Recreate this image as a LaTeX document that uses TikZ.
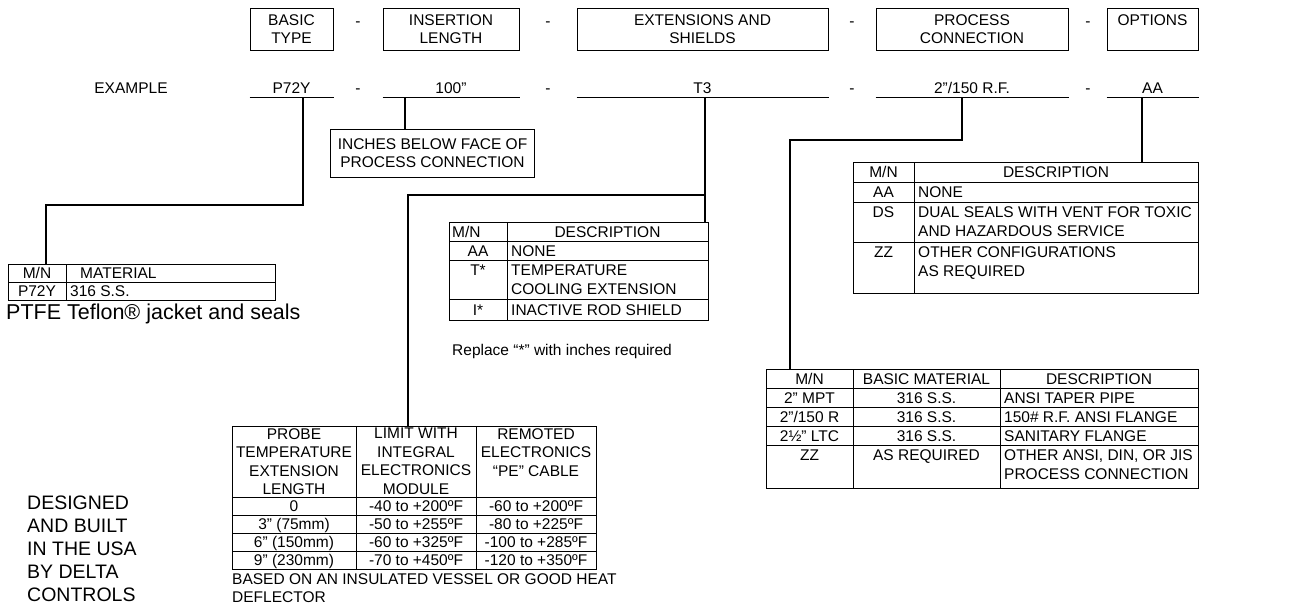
\documentclass[tikz,border=0pt]{standalone}
\usepackage{fontspec}
\setmainfont{Liberation Sans}
\usetikzlibrary{positioning}

\begin{document}
\begin{tikzpicture}[x=1pt,y=-1pt,
  txt/.style={font=\fontsize{15.5}{18.5}\selectfont, inner sep=0pt},
  note/.style={font=\fontsize{21.5}{25}\selectfont, inner sep=0pt},
  big/.style={font=\fontsize{19.5}{23}\selectfont, inner sep=0pt},
  hdbox/.style={draw, line width=1pt, minimum height=42pt, align=center, txt},
  cell/.style={line width=1pt},
  wire/.style={line width=1.6pt}]
\useasboundingbox (0,0) rectangle (1312,614);

% code boxes
\node[hdbox, minimum width=83pt]  (hbasic) at (291.5,29)  {BASIC\\TYPE};
\node[hdbox, minimum width=136pt] (hins)   at (451,29)    {INSERTION\\LENGTH};
\node[hdbox, minimum width=251pt] (hext)   at (702.5,29)  {EXTENSIONS AND\\SHIELDS};
\node[hdbox, minimum width=192pt] (hproc)  at (972,29)    {PROCESS\\CONNECTION};
\node[hdbox, minimum width=91pt]  (hopt)   at (1152.5,29) {OPTIONS\\~};

% example code on the lines
\node[txt, anchor=base] (exlbl) at (131,93) {EXAMPLE};
\foreach \b/\v in {hbasic/P72Y, hins/100”, hext/T3, hproc/{2”/150 R.F.}, hopt/AA}{
  \draw[cell] ([yshift=-47pt]\b.south west) -- ([yshift=-47pt]\b.south east);
  \node[txt, anchor=base] (v-\b) at ([yshift=-43pt]\b.south) {\v};
}
\foreach \x [count=\i] in {358,548,852,1088}{
  \node[txt, anchor=base] (hd\i) at (\x,26) {-};
  \node[txt, anchor=base] (ed\i) at (\x,93) {-};
}

% insertion length note
\node[draw, cell, txt, align=center, minimum width=204pt, minimum height=48pt] (inches) at (432.5,153) {INCHES BELOW FACE OF\\PROCESS CONNECTION};

% material table
\draw[cell] (8,264) rectangle (275,300) (8,282) -- (275,282) (66,264) -- (66,300);
\node[txt, anchor=base] (matmn) at (37,278.5) {M/N};
\node[txt, anchor=base west] (mathd) at (80,278.5) {MATERIAL};
\node[txt, anchor=base] (matp) at (37,296.5) {P72Y};
\node[txt, anchor=base west] (matss) at (70,296.5) {316 S.S.};
\node[note, anchor=base west] (ptfe) at (6,319) {PTFE Teflon® jacket and seals};

% extensions table
\draw[cell] (449,222) rectangle (708,320) (507,222) -- (507,320);
\foreach \y in {241,260,299} \draw[cell] (449,\y) -- (708,\y);
\node[txt, anchor=base west] (extmn) at (452,237) {M/N};
\node[txt, anchor=base] (extds) at (607.5,237) {DESCRIPTION};
\foreach \m/\d/\y [count=\i] in {AA/NONE/256, T*/TEMPERATURE/275, I*/INACTIVE ROD SHIELD/315}{
  \node[txt, anchor=base] (extm\i) at (478,\y) {\m};
  \node[txt, anchor=base west] (extd\i) at (511,\y) {\d};
}
\node[txt, anchor=base west] (extd4) at (511,294) {COOLING EXTENSION};
\node[txt, anchor=base west] (repl) at (452,355) {Replace “*” with inches required};

% options table
\draw[cell] (853,162) rectangle (1198,293) (914,162) -- (914,293);
\foreach \y in {182,202,242} \draw[cell] (853,\y) -- (1198,\y);
\node[txt, anchor=base] (optmn) at (883.5,177.5) {M/N};
\node[txt, anchor=base] (optds) at (1056,177.5) {DESCRIPTION};
\foreach \m/\d/\y [count=\i] in {AA/NONE/197.5, DS/DUAL SEALS WITH VENT FOR TOXIC/217, ZZ/OTHER CONFIGURATIONS/257}{
  \node[txt, anchor=base] (optm\i) at (883.5,\y) {\m};
  \node[txt, anchor=base west] (optd\i) at (918,\y) {\d};
}
\node[txt, anchor=base west] (optd4) at (918,236) {AND HAZARDOUS SERVICE};
\node[txt, anchor=base west] (optd5) at (918,276) {AS REQUIRED};

% process connection table
\draw[cell] (766,369) rectangle (1198,488) (853,369) -- (853,488) (1000,369) -- (1000,488);
\foreach \y in {388,407,426,445} \draw[cell] (766,\y) -- (1198,\y);
\node[txt, anchor=base] (prcmn) at (809.5,384) {M/N};
\node[txt, anchor=base] (prcmat) at (926.5,384) {BASIC MATERIAL};
\node[txt, anchor=base] (prcds) at (1099,384) {DESCRIPTION};
\foreach \m/\s/\d/\y [count=\i] in {2” MPT/316 S.S./ANSI TAPER PIPE/403, {2”/150 R}/316 S.S./150\# R.F. ANSI FLANGE/422, 2½” LTC/316 S.S./SANITARY FLANGE/441, ZZ/AS REQUIRED/{OTHER ANSI, DIN, OR JIS}/460}{
  \node[txt, anchor=base] (prcm\i) at (809.5,\y) {\m};
  \node[txt, anchor=base] (prcs\i) at (926.5,\y) {\s};
  \node[txt, anchor=base west] (prcd\i) at (1004,\y) {\d};
}
\node[txt, anchor=base west] (prcd5) at (1004,479) {PROCESS CONNECTION};

% temperature table
\draw[cell] (232,426) rectangle (596,569) (356,426) -- (356,569) (476,426) -- (476,569);
\foreach \y in {497,515,533,551} \draw[cell] (232,\y) -- (596,\y);
\node[txt, align=center, anchor=north] (tmph1) at (294,428) {PROBE\\TEMPERATURE\\EXTENSION\\LENGTH};
\node[txt, align=center, anchor=north] (tmph2) at (416,428) {LIMIT WITH\\INTEGRAL\\ELECTRONICS\\MODULE};
\node[txt, align=center, anchor=north] (tmph3) at (536,428) {REMOTED\\ELECTRONICS\\“PE” CABLE};
\foreach \a/\b/\c/\y [count=\i] in {0/-40 to +200ºF/-60 to +200ºF/511.5, 3” (75mm)/-50 to +255ºF/-80 to +225ºF/529.5, 6” (150mm)/-60 to +325ºF/-100 to +285ºF/547.5, 9” (230mm)/-70 to +450ºF/-120 to +350ºF/565.5}{
  \node[txt, anchor=base] (tmpa\i) at (294,\y) {\a};
  \node[txt, anchor=base] (tmpb\i) at (416,\y) {\b};
  \node[txt, anchor=base] (tmpc\i) at (536,\y) {\c};
}
\node[txt, anchor=base west] (based1) at (232,584) {BASED ON AN INSULATED VESSEL OR GOOD HEAT};
\node[txt, anchor=base west] (based2) at (232,602) {DEFLECTOR};

\node[big, align=left, anchor=north west] (made) at (27,496) {DESIGNED\\AND BUILT\\IN THE USA\\BY DELTA\\CONTROLS};

% leader lines
\coordinate (k1) at (303,97);  \coordinate (t1) at (46,264);
\coordinate (k2) at (405,97);
\coordinate (k3) at (705,97);  \coordinate (t3) at (705,222); \coordinate (t4) at (408,426);
\coordinate (k4) at (962,97);  \coordinate (t5) at (790,369);
\coordinate (k5) at (1142,97); \coordinate (t6) at (1142,162);
\draw[wire] (k1) -- ++(0,108) -| (t1);
\draw[wire] (k2) -- (k2 |- inches.north);
\draw[wire] (k3) -- (t3);
\draw[wire] (k3) -- ++(0,98) -| (t4);
\draw[wire] (k4) -- ++(0,43) -| (t5);
\draw[wire] (k5) -- (t6);
\end{tikzpicture}
\end{document}
